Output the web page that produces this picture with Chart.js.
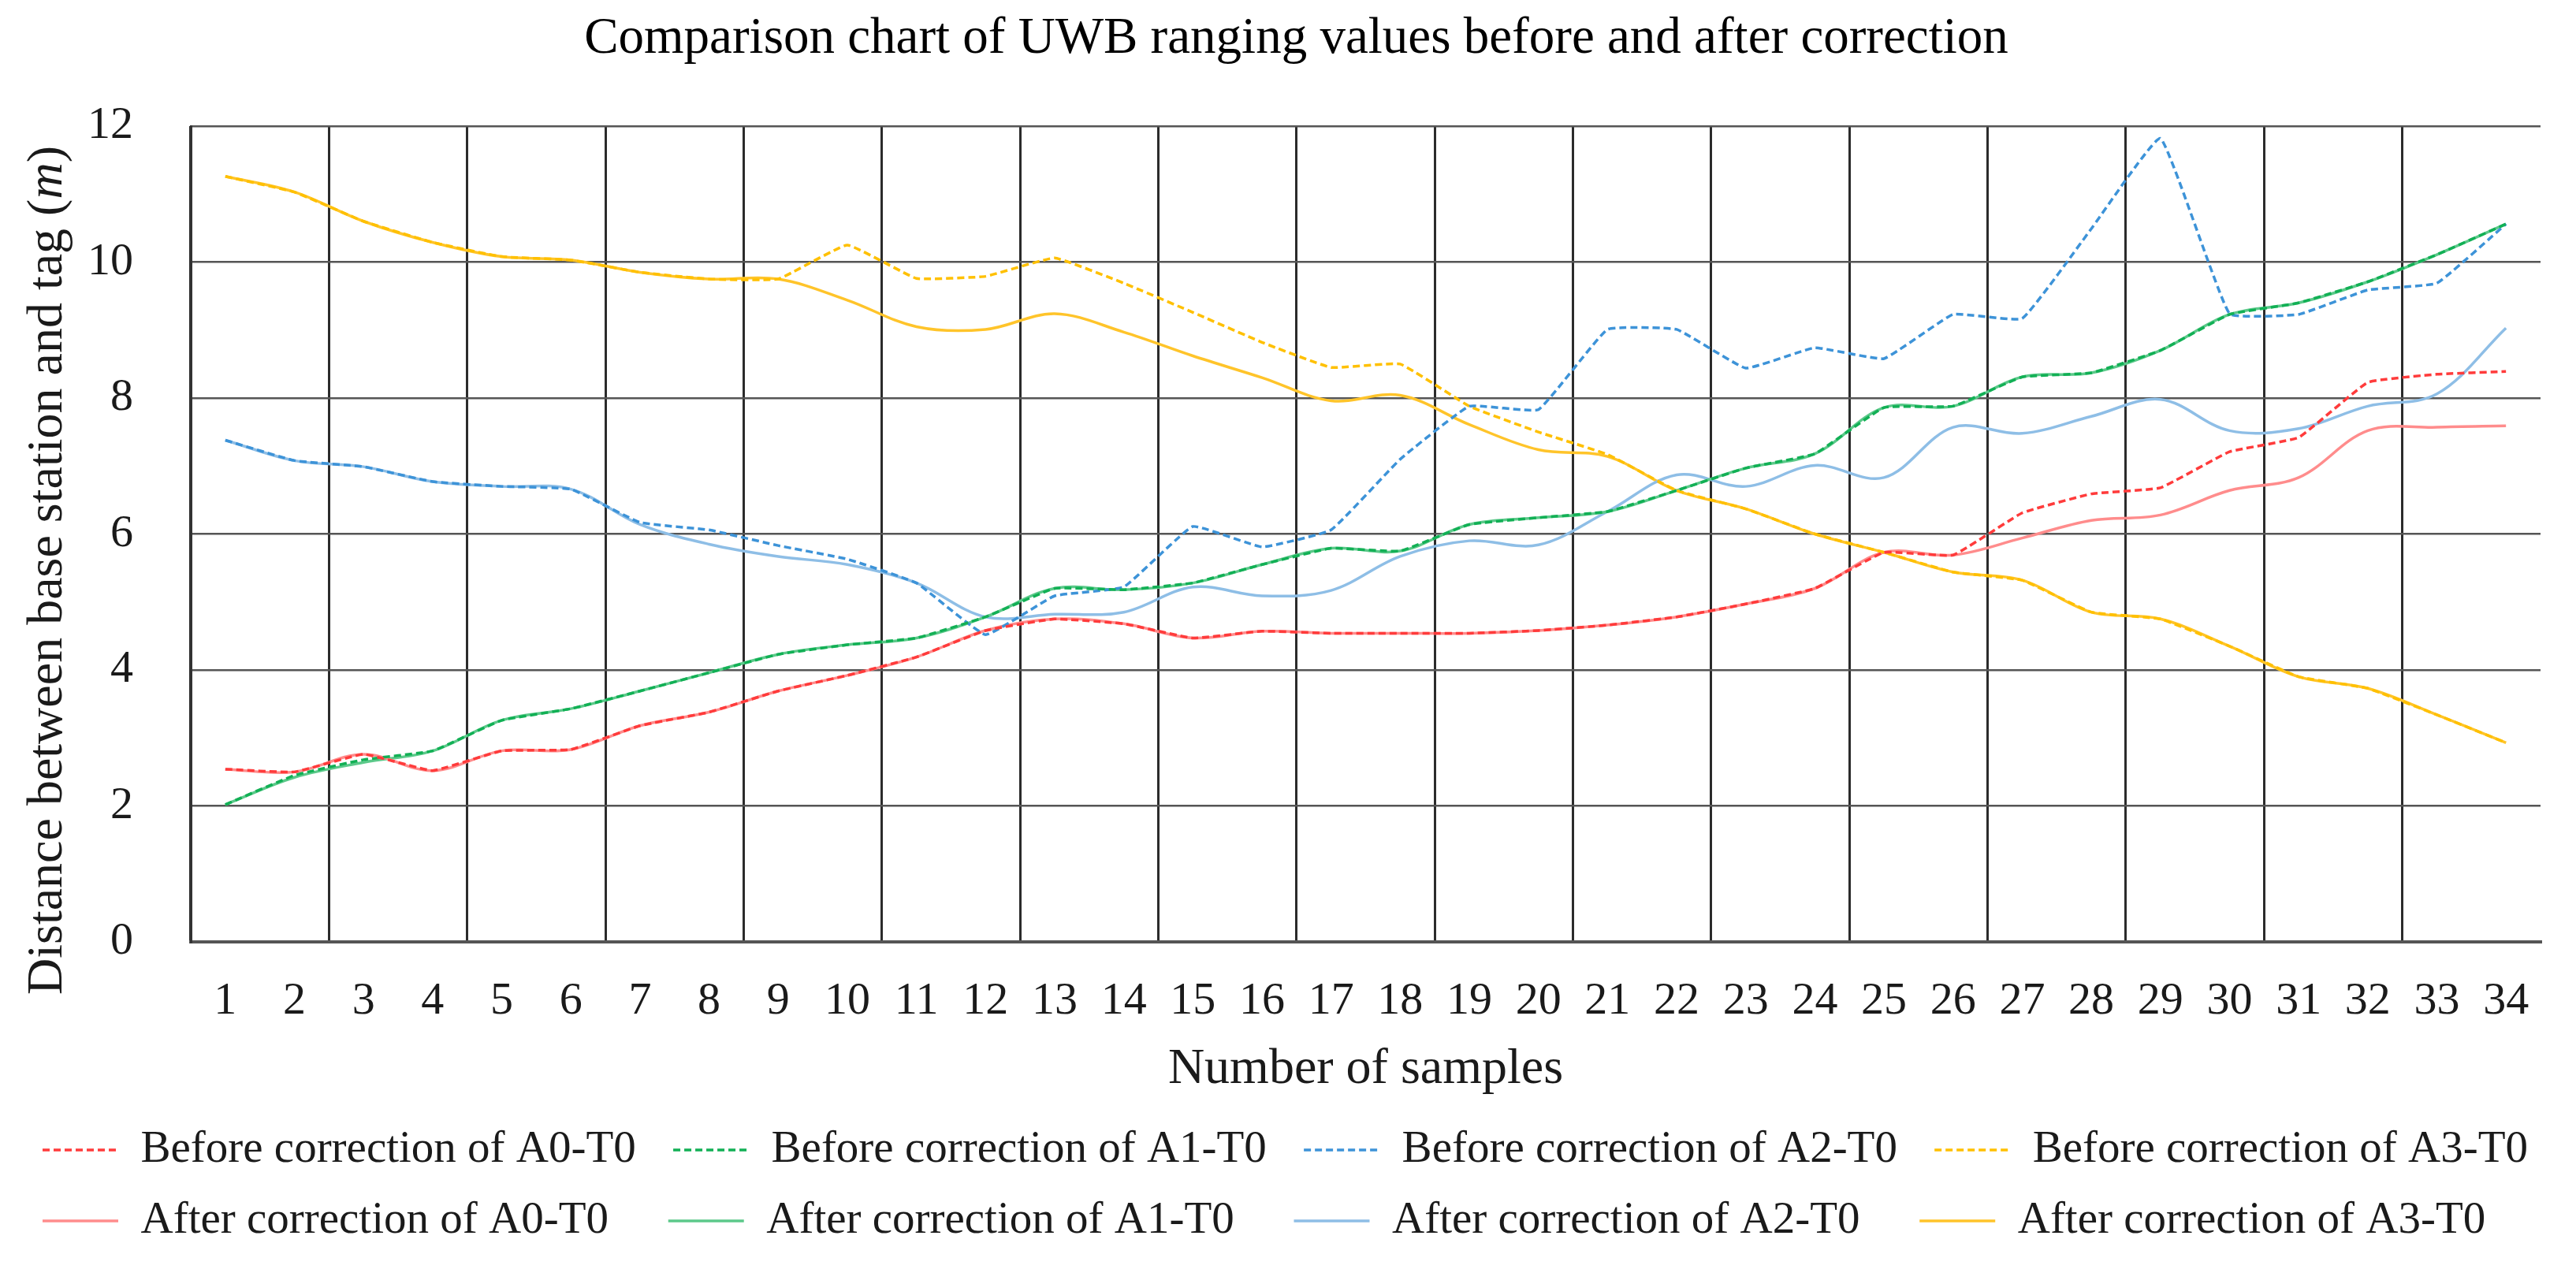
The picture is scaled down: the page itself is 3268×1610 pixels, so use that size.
<!DOCTYPE html>
<html>
<head>
<meta charset="utf-8">
<title>UWB ranging before / after correction</title>
<script src="https://cdn.jsdelivr.net/npm/chart.js@4.4.1/dist/chart.umd.min.js"></script>
<style>
  html, body { margin: 0; padding: 0; background: #fff; }
  #wrap { width: 3268px; height: 1610px; position: relative; }
</style>
</head>
<body>
<div id="wrap"><canvas id="chart"></canvas></div>
<script>
const sampleLabels = ['1','2','3','4','5','6','7','8','9','10','11','12','13','14','15','16','17',
                      '18','19','20','21','22','23','24','25','26','27','28','29','30','31','32','33','34'];

// distances in metres
const beforeA0 = [2.54,2.50,2.76,2.52,2.81,2.83,3.18,3.38,3.69,3.92,4.19,4.58,4.75,4.68,4.47,4.57,4.54,
                  4.54,4.54,4.58,4.66,4.78,4.97,5.20,5.73,5.69,6.31,6.59,6.68,7.21,7.42,8.23,8.35,8.39];
const beforeA1 = [2.02,2.45,2.68,2.81,3.26,3.43,3.69,3.96,4.23,4.37,4.47,4.78,5.20,5.18,5.28,5.55,5.79,
                  5.75,6.14,6.24,6.33,6.64,6.97,7.18,7.86,7.88,8.31,8.37,8.70,9.23,9.40,9.71,10.11,10.56];
const beforeA2 = [7.38,7.08,6.99,6.77,6.70,6.66,6.17,6.06,5.83,5.63,5.28,4.52,5.09,5.22,6.11,5.81,6.06,
                  7.10,7.88,7.83,9.01,9.01,8.44,8.74,8.58,9.23,9.17,10.49,11.82,9.24,9.23,9.59,9.69,10.56];
const beforeA3 = [11.26,11.03,10.60,10.29,10.08,10.03,9.85,9.75,9.75,10.25,9.76,9.79,10.06,9.69,9.26,8.82,8.45,
                  8.50,7.88,7.50,7.17,6.64,6.37,6.00,5.73,5.44,5.32,4.85,4.75,4.35,3.90,3.73,3.34,2.93];

const afterA0 = [2.54,2.50,2.76,2.52,2.81,2.83,3.18,3.38,3.69,3.92,4.19,4.58,4.75,4.68,4.47,4.57,4.54,
                 4.54,4.54,4.58,4.66,4.78,4.97,5.20,5.73,5.69,5.94,6.20,6.28,6.64,6.83,7.52,7.57,7.59];
const afterA1 = [2.02,2.42,2.64,2.81,3.26,3.43,3.69,3.96,4.23,4.37,4.47,4.78,5.20,5.18,5.28,5.55,5.79,
                 5.75,6.14,6.24,6.33,6.64,6.97,7.18,7.86,7.88,8.31,8.37,8.70,9.23,9.40,9.71,10.11,10.56];
const afterA2 = [7.38,7.08,6.99,6.77,6.70,6.66,6.14,5.85,5.67,5.55,5.28,4.78,4.82,4.85,5.22,5.09,5.17,
                 5.67,5.90,5.84,6.33,6.87,6.70,7.01,6.83,7.57,7.48,7.73,7.98,7.52,7.55,7.88,8.06,9.03];
const afterA3 = [11.26,11.03,10.60,10.29,10.08,10.03,9.85,9.75,9.75,9.44,9.05,9.01,9.24,8.97,8.62,8.30,7.96,
                 8.04,7.61,7.24,7.14,6.64,6.37,6.00,5.73,5.44,5.32,4.85,4.75,4.35,3.90,3.73,3.34,2.93];

const serif = '"Liberation Serif", "Times New Roman", serif';
const textColor = '#1a1a1a';

Chart.defaults.font.family = serif;
Chart.defaults.color = textColor;

function dashed(label, data, color) {
    return { label, data, borderColor: color, backgroundColor: color, borderWidth: 3.5,
             borderDash: [9, 5], tension: 0.1, pointRadius: 0, pointHoverRadius: 0 };
}
function solid(label, data, color) {
    return { label, data, borderColor: color, backgroundColor: color, borderWidth: 3.5,
             tension: 0.35, pointRadius: 0, pointHoverRadius: 0 };
}

// legend items built by hand so the dash shows, padded so the two rows line up in columns
function legendLabels(chart) {
    const ctx = chart.ctx;
    ctx.save();
    ctx.font = '57px ' + serif;
    const items = chart.data.datasets.map((ds, i) => ({
        text: ds.label,
        fillStyle: ds.borderColor,
        strokeStyle: ds.borderColor,
        fontColor: textColor,
        lineWidth: ds.borderWidth,
        lineDash: ds.borderDash || [],
        lineCap: 'butt',
        pointStyle: 'line',
        hidden: false,
        datasetIndex: i
    }));
    const spaceW = ctx.measureText(' ').width;
    const target = Math.max(...items.map(it => ctx.measureText(it.text).width)) + 8;
    items.forEach(it => {
        const n = Math.max(0, Math.round((target - ctx.measureText(it.text).width) / spaceW));
        it.text += ' '.repeat(n);
    });
    ctx.restore();
    return items;
}

// y axis title with an italic "m"
const yTitlePlugin = {
    id: 'yTitle',
    afterDraw(chart) {
        const ctx = chart.ctx;
        const area = chart.chartArea;
        const parts = [
            { s: 'Distance between base station and tag (', style: 'normal' },
            { s: 'm', style: 'italic' },
            { s: ')', style: 'normal' }
        ];
        ctx.save();
        ctx.fillStyle = textColor;
        let total = 0;
        parts.forEach(p => {
            ctx.font = p.style + ' 64px ' + serif;
            p.w = ctx.measureText(p.s).width;
            total += p.w;
        });
        ctx.translate(78, (area.top + area.bottom) / 2 + 46);
        ctx.rotate(-Math.PI / 2);
        ctx.textBaseline = 'alphabetic';
        ctx.textAlign = 'left';
        let x = -total / 2;
        parts.forEach(p => {
            ctx.font = p.style + ' 64px ' + serif;
            ctx.fillText(p.s, x, 0);
            x += p.w;
        });
        ctx.restore();
    }
};

new Chart(document.getElementById('chart'), {
    type: 'line',
    data: {
        labels: sampleLabels,
        datasets: [
            dashed('Before correction of A0-T0', beforeA0, '#FF3B3B'),
            dashed('Before correction of A1-T0', beforeA1, '#12B055'),
            dashed('Before correction of A2-T0', beforeA2, '#3D93D8'),
            dashed('Before correction of A3-T0', beforeA3, '#FFC000'),
            solid('After correction of A0-T0', afterA0, '#FF8C8C'),
            solid('After correction of A1-T0', afterA1, '#5CC98A'),
            solid('After correction of A2-T0', afterA2, '#8EBEE6'),
            solid('After correction of A3-T0', afterA3, '#FFC42A')
        ]
    },
    options: {
        responsive: true,
        maintainAspectRatio: false,
        animation: false,
        layout: { padding: { left: 21, right: 0, top: 0, bottom: 22.5 } },
        plugins: {
            title: {
                display: true,
                text: 'Comparison chart of UWB ranging values before and after correction',
                font: { size: 65, weight: 'normal' },
                color: '#000',
                padding: { top: 11, bottom: 71 }
            },
            legend: {
                position: 'bottom',
                align: 'start',
                labels: {
                    usePointStyle: true,
                    pointStyle: 'line',
                    pointStyleWidth: 96,
                    font: { size: 57 },
                    color: textColor,
                    padding: 33,
                    generateLabels: legendLabels
                }
            },
            tooltip: { enabled: false }
        },
        scales: {
            x: {
                offset: true,
                grid: {
                    offset: true,
                    drawTicks: false,
                    lineWidth: 3,
                    color: ctx => (ctx.index % 2 === 0 ? '#2b2b2b' : 'rgba(0,0,0,0)')
                },
                border: { display: true, color: '#555', width: 4 },
                ticks: { font: { size: 58 }, color: textColor, padding: 41, autoSkip: false, maxRotation: 0 },
                title: {
                    display: true,
                    text: 'Number of samples',
                    font: { size: 64 },
                    color: textColor,
                    padding: { top: 0, bottom: 2 }
                },
                afterFit: s => { s.height = 202.5; }
            },
            y: {
                min: 0,
                max: 12,
                ticks: { stepSize: 2, font: { size: 58 }, color: textColor, padding: 73 },
                grid: { color: '#555', lineWidth: 2.5, drawTicks: false },
                border: { display: true, color: '#333', width: 3 },
                afterFit: s => { s.width = 221; }
            },
            yRight: {
                position: 'right',
                grid: { display: false },
                ticks: { display: false },
                border: { display: false },
                afterFit: s => { s.width = 45; }
            }
        }
    },
    plugins: [yTitlePlugin]
});
</script>
</body>
</html>
